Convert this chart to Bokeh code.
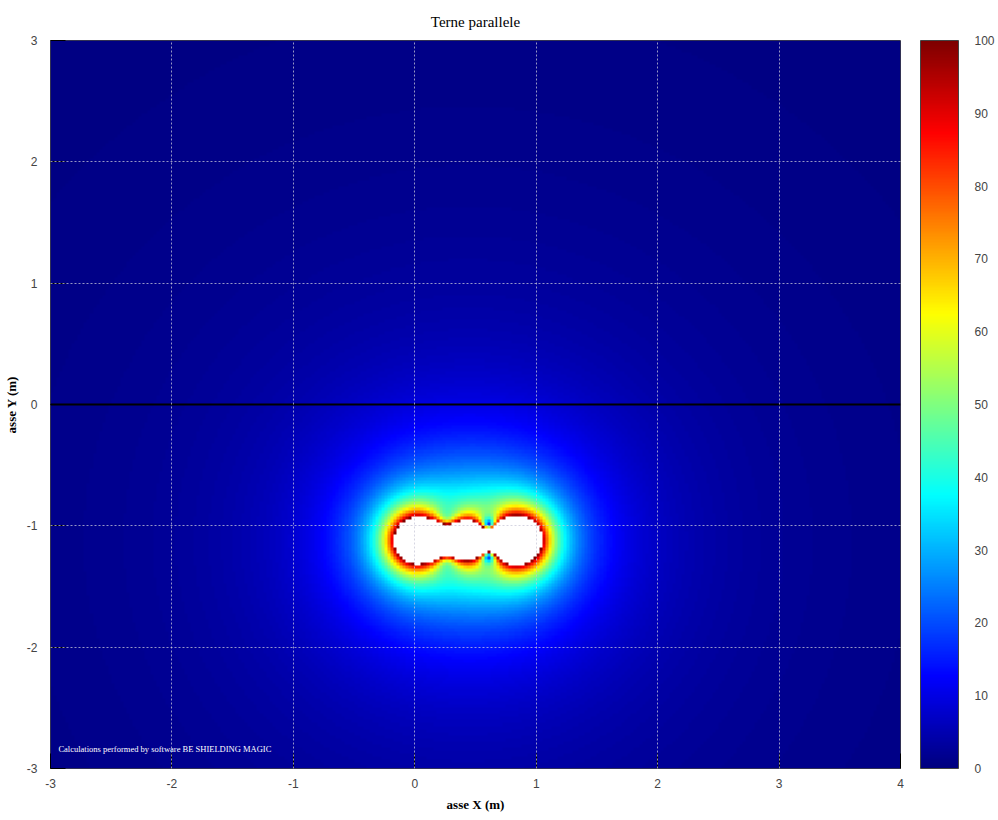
import numpy as np
from bokeh.plotting import figure
from bokeh.models import (LinearColorMapper, ColorBar, FixedTicker, Span, Label, Range1d)
from bokeh.embed import file_html
from bokeh.resources import INLINE

# ---------------- data ----------------
title_text = "Terne parallele"
x_label = "asse X (m)"
y_label = "asse Y (m)"
credit_text = "Calculations performed by software BE SHIELDING MAGIC"

x_ticks = [-3, -2, -1, 0, 1, 2, 3, 4]
y_ticks = [-3, -2, -1, 0, 1, 2, 3]
cbar_ticks = [0, 10, 20, 30, 40, 50, 60, 70, 80, 90, 100]

x_min, x_max = -3.0, 4.0
y_min, y_max = -3.0, 3.0
cell_size = 0.025                    # calculation grid step (m)
field_low, field_high = 0.0, 100.0   # colour scale (uT)

# three parallel three-phase circuits laid flat
cable_x = [0.00, 0.11, 0.22, 0.33, 0.44, 0.55, 0.66, 0.77, 0.88]
cable_y = [-1.12, -1.12, -1.12, -1.12, -1.12, -1.12, -1.12, -1.12, -1.12]
cable_current = [136, 136, 136, 134, 134, 134, 136, 136, 136]     # A rms
cable_phase = [0, -120, 120, 20, -100, 140, 0, -120, 120]         # degrees

# ---------------- field calculation (infinite straight conductors) ----------------
nx = int(round((x_max - x_min) / cell_size))
ny = int(round((y_max - y_min) / cell_size))
xs = x_min + cell_size * (np.arange(nx) + 0.5)
ys = y_min + cell_size * (np.arange(ny) + 0.5)
X, Y = np.meshgrid(xs, ys)
Bx = np.zeros_like(X, dtype=complex)
By = np.zeros_like(X, dtype=complex)
for cx, cy, amp, ph in zip(cable_x, cable_y, cable_current, cable_phase):
    I = amp * np.exp(1j * np.deg2rad(ph))
    dx = X - cx
    dy = Y - cy
    r2 = dx * dx + dy * dy + 1e-9
    Bx += -0.2 * I * dy / r2
    By += 0.2 * I * dx / r2
B = np.sqrt(np.abs(Bx) ** 2 + np.abs(By) ** 2).astype(np.float32)

# ---------------- jet palette ----------------
def jet(n=256):
    pal = []
    for i in range(n):
        t = i / (n - 1)
        r = min(max(1.5 - abs(4 * t - 3), 0), 1)
        g = min(max(1.5 - abs(4 * t - 2), 0), 1)
        b = min(max(1.5 - abs(4 * t - 1), 0), 1)
        pal.append("#%02x%02x%02x" % (int(r * 255), int(g * 255), int(b * 255)))
    return pal

palette = jet()
mapper = LinearColorMapper(palette=palette, low=field_low, high=field_high,
                           high_color="white", low_color=palette[0])

# ---------------- figure ----------------
p = figure(frame_width=850, frame_height=728,
           x_range=Range1d(x_min, x_max), y_range=Range1d(y_min, y_max),
           output_backend="svg", toolbar_location=None,
           min_border_left=42, min_border_top=32, min_border_bottom=40,
           min_border_right=10, title=title_text)

p.image(image=[B], x=x_min, y=y_min, dw=x_max - x_min, dh=y_max - y_min,
        color_mapper=mapper)

p.title.align = "center"
p.title.text_font = "Liberation Serif"
p.title.text_font_style = "normal"
p.title.text_font_size = "15px"
p.title.text_color = "black"
p.title.standoff = 22

p.outline_line_color = "#444444"
p.outline_line_width = 1

for ax in (p.xaxis[0], p.yaxis[0]):
    ax.major_tick_in = 15
    ax.major_tick_out = 0
    ax.minor_tick_in = 0
    ax.minor_tick_out = 0
    ax.major_tick_line_color = "black"
    ax.axis_line_color = None
    ax.major_label_text_font = "Liberation Sans"
    ax.major_label_text_font_size = "12px"
    ax.major_label_text_color = "#444444"
    ax.axis_label_text_font = "Liberation Serif"
    ax.axis_label_text_font_style = "bold"
    ax.axis_label_text_font_size = "13px"
    ax.axis_label_text_color = "black"

p.xaxis.ticker = FixedTicker(ticks=x_ticks)
p.yaxis.ticker = FixedTicker(ticks=y_ticks)
p.xaxis.major_label_overrides = {t: str(t) for t in x_ticks}
p.yaxis.major_label_overrides = {t: str(t) for t in y_ticks}
p.xaxis.axis_label = x_label
p.yaxis.axis_label = y_label
p.xaxis.major_label_standoff = 10
p.xaxis.axis_label_standoff = 6
p.yaxis.major_label_standoff = 13
p.yaxis.axis_label_standoff = 5

p.xgrid.ticker = FixedTicker(ticks=x_ticks)
p.ygrid.ticker = FixedTicker(ticks=[t for t in y_ticks if t != 0])
for g in (p.xgrid[0], p.ygrid[0]):
    g.level = "overlay"
    g.grid_line_color = "#c8c8d8"
    g.grid_line_alpha = 0.75
    g.grid_line_dash = "2 2"
    g.grid_line_width = 1

p.add_layout(Span(location=0, dimension="width", line_color="black", line_width=2))

p.add_layout(Label(x=-2.935, y=-2.88, text=credit_text, text_color="white",
                   text_font="Liberation Serif", text_font_size="8.5px"))

cb = ColorBar(color_mapper=mapper, ticker=FixedTicker(ticks=cbar_ticks),
              width=38, height=728, margin=0, padding=0, location=(20, 0),
              bar_line_color="#444444", major_tick_line_color=None,
              minor_tick_line_color=None, label_standoff=16,
              major_label_text_font="Liberation Sans",
              major_label_text_font_size="12px",
              major_label_text_color="#444444",
              border_line_color=None, background_fill_color=None)
p.add_layout(cb, "right")

open("out.html", "w").write(file_html(p, INLINE))
